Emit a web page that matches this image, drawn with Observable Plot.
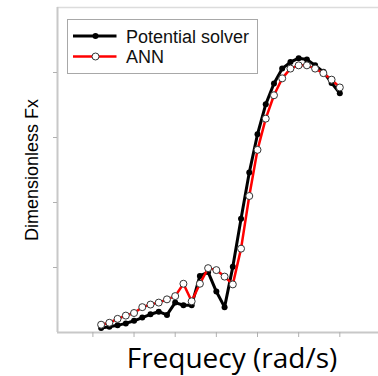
<!DOCTYPE html>
<html>
<head>
<meta charset="utf-8">
<script src="https://cdn.jsdelivr.net/npm/d3@7"></script>
<script src="https://cdn.jsdelivr.net/npm/@observablehq/plot@0.6"></script>
<style>
  html, body { margin: 0; padding: 0; background: white; }
  #wrap { position: relative; width: 378px; height: 376px; }
  #legend { position: absolute; left: 0; top: 0; }
</style>
</head>
<body>
<div id="wrap"></div>
<script>
// Frequency (rad/s) sample points
const frequency = [0.1,0.2,0.3,0.4,0.5,0.6,0.7,0.8,0.9,1.0,
                   1.1,1.2,1.3,1.4,1.5,1.6,1.7,1.8,1.9,2.0,
                   2.1,2.2,2.3,2.4,2.5,2.6,2.7,2.8,2.9,3.0];
// Dimensionless Fx – potential solver
const potentialSolver = [0.07,0.09,0.11,0.14,0.18,0.23,0.28,0.32,0.27,0.46,
                         0.42,0.42,0.87,0.93,0.63,0.39,1.01,1.75,2.46,3.05,
                         3.51,3.83,4.06,4.16,4.22,4.20,4.11,4.01,3.84,3.68];
// Dimensionless Fx – ANN
const ann = [0.12,0.15,0.21,0.26,0.30,0.39,0.43,0.46,0.51,0.56,
             0.75,0.48,0.75,0.99,0.96,0.86,0.74,1.29,2.10,2.81,
             3.29,3.65,3.91,4.06,4.11,4.11,4.06,3.99,3.89,3.77];
const xTicks = [0,0.5,1.0,1.5,2.0,2.5,3.0];
const yTicks = [1,2,3,4];
const seriesNames = ["Potential solver", "ANN"];

const potData = frequency.map((f,i) => ({f, v: potentialSolver[i]}));
const annData = frequency.map((f,i) => ({f, v: ann[i]}));

const axisGray = "#c8c8c8";
const tickGray = "#b0b0b0";

const chart = Plot.plot({
  width: 378, height: 376,
  marginLeft: 57, marginRight: 0, marginTop: 7, marginBottom: 44,
  x: {domain: [-0.43, 3.47]},
  y: {domain: [0, 5]},
  style: {background: "white", fontFamily: "Liberation Sans, Arial, sans-serif"},
  marks: [
    Plot.ruleY([5], {stroke: "#dcdcdc", strokeWidth: 1.5}),
    Plot.ruleY([0], {stroke: axisGray, strokeWidth: 2}),
    Plot.ruleX([-0.43], {stroke: axisGray, strokeWidth: 2}),
    Plot.axisX({ticks: xTicks, tickFormat: () => "", tickSize: 5, stroke: tickGray, label: null}),
    Plot.axisY({ticks: yTicks, tickFormat: () => "", tickSize: 4, stroke: tickGray, label: null}),
    Plot.line(potData, {x: "f", y: "v", stroke: "black", strokeWidth: 3}),
    Plot.dot(potData, {x: "f", y: "v", r: 3, fill: "black"}),
    Plot.line(annData, {x: "f", y: "v", stroke: "#ff0000", strokeWidth: 2.5}),
    Plot.dot(annData, {x: "f", y: "v", r: 3.5, fill: "white", stroke: "#333", strokeWidth: 1}),
    Plot.text(["Dimensionless Fx"], {text: d => d, frameAnchor: "left", rotate: -90, dx: -20,
      lineAnchor: "bottom", textAnchor: "middle", fontSize: 18, fill: "black",
      fontFamily: "Liberation Sans, Arial, sans-serif"}),
    Plot.text(["Frequecy (rad/s)"], {text: d => d, frameAnchor: "bottom", dx: 14, dy: 35,
      lineAnchor: "bottom", textAnchor: "middle", fontSize: 28, fill: "black",
      fontFamily: "Open Sans, sans-serif"})
  ]
});
document.getElementById("wrap").appendChild(chart);

// Legend box
const lg = d3.select("#wrap").append("svg").attr("id", "legend")
  .attr("width", 378).attr("height", 376);
lg.append("rect").attr("x", 67.5).attr("y", 19.5).attr("width", 190).attr("height", 54)
  .attr("fill", "white").attr("stroke", "#a8a8a8").attr("stroke-width", 1);
const rows = [
  {name: seriesNames[0], stroke: "black", sw: 3, fill: "black", mstroke: "none", r: 3},
  {name: seriesNames[1], stroke: "#ff0000", sw: 2.5, fill: "white", mstroke: "#333", r: 3.5}
];
rows.forEach((d, i) => {
  const y = 36 + i * 20.5;
  lg.append("line").attr("x1", 73).attr("x2", 116.5).attr("y1", y).attr("y2", y)
    .attr("stroke", d.stroke).attr("stroke-width", d.sw);
  lg.append("circle").attr("cx", 95.5).attr("cy", y).attr("r", d.r)
    .attr("fill", d.fill).attr("stroke", d.mstroke);
  lg.append("text").attr("x", 126).attr("y", y + 6.5).text(d.name)
    .attr("font-family", "Liberation Sans, Arial, sans-serif").attr("font-size", 18)
    .attr("fill", "#111");
});
</script>
</body>
</html>
